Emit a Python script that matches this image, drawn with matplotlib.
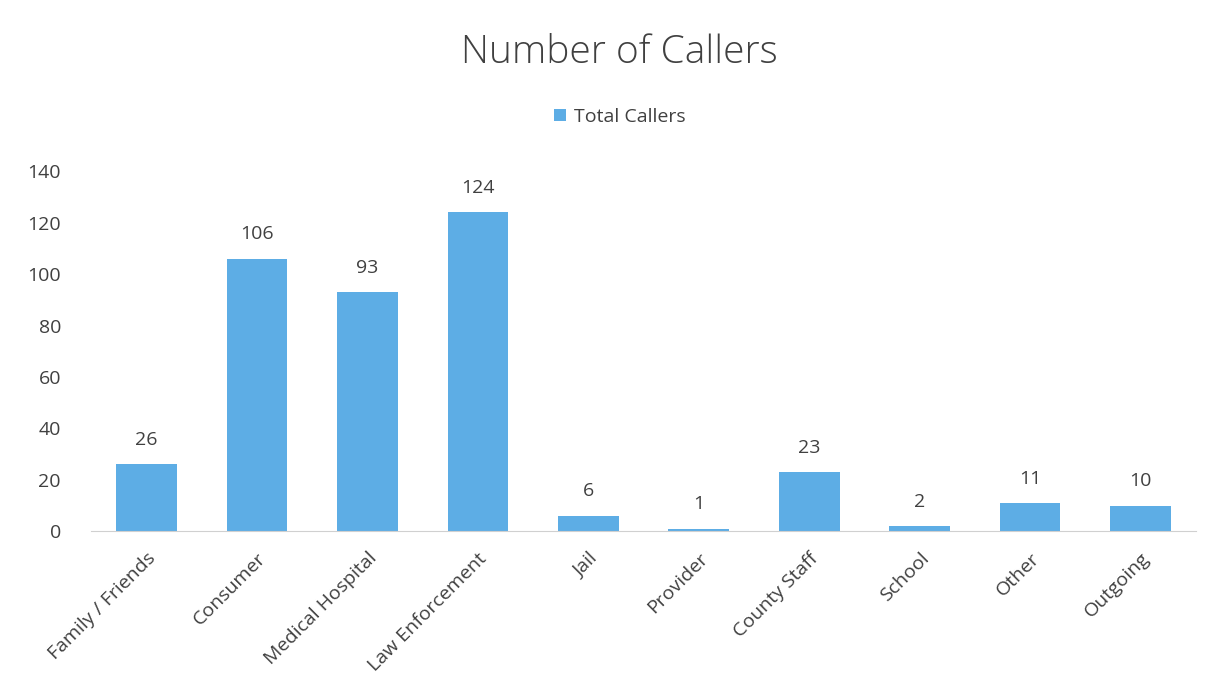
import matplotlib
matplotlib.use("Agg")
import matplotlib.pyplot as plt

categories = ["Family / Friends", "Consumer", "Medical Hospital", "Law Enforcement", "Jail",
              "Provider", "County Staff", "School", "Other", "Outgoing"]
values = [26, 106, 93, 124, 6, 1, 23, 2, 11, 10]
yticks = [0, 20, 40, 60, 80, 100, 120, 140]

plt.rcParams['font.family'] = ['Open Sans', 'DejaVu Sans']

fig = plt.figure(figsize=(12.2, 6.99), dpi=100)
ax = fig.add_axes([0.075, 0.240, 0.905, 0.515])
color = "#5dade5"
x = range(len(categories))
bars = ax.bar(x, values, width=0.55, color=color, label="Total Callers")
for xi, v in zip(x, values):
    ax.text(xi, v + 6, str(v), ha="center", va="bottom", fontsize=14, color="#404040")

ax.set_xlim(-0.5, len(categories) - 0.5)
ax.set_ylim(0, 140)
ax.set_yticks(yticks)
ax.set_xticks(list(x))
ax.set_xticklabels(categories, rotation=45, ha="right", rotation_mode="anchor", fontsize=14, color="#404040")
ax.tick_params(axis="y", length=0, labelsize=14, labelcolor="#404040", pad=22)
ax.tick_params(axis="x", length=0, pad=13)
for s in ["top", "right", "left"]:
    ax.spines[s].set_visible(False)
ax.spines["bottom"].set_color("#d0d0d0")

fig.text(0.508, 0.925, "Number of Callers", ha="center", va="center", fontsize=28,
         fontweight="light", color="#404040")
fig.legend(loc="center", bbox_to_anchor=(0.508, 0.833), frameon=False, fontsize=14,
           handlelength=0.6, handleheight=0.6, handletextpad=0.4, labelcolor="#404040")

fig.savefig("out.png", dpi=100)
